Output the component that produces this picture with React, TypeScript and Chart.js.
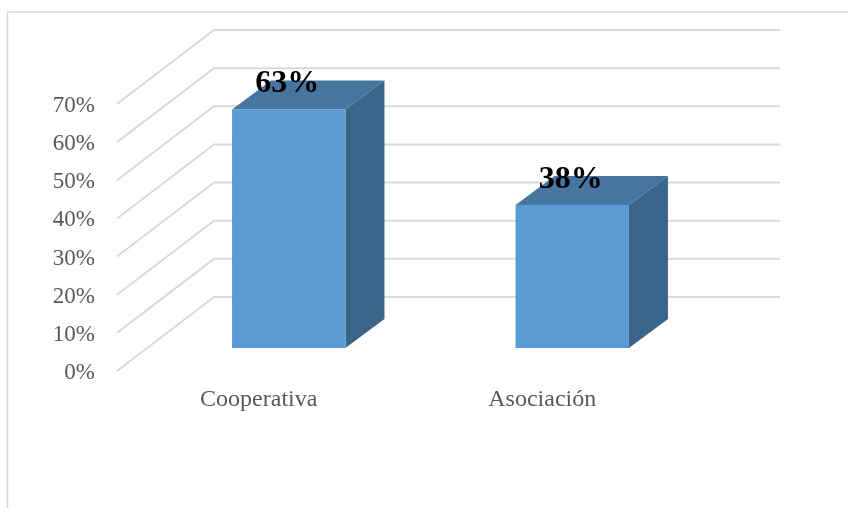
import React, { useEffect, useRef } from "react";
import { Chart, registerables } from "chart.js";

Chart.register(...registerables);

const categories = ["Cooperativa", "Asociación"];
const shares = [62.5, 37.5];
const shareLabels = ["63%", "38%"];
const axisTicks = [0, 10, 20, 30, 40, 50, 60, 70];

const SERIF = "'Liberation Serif', 'Times New Roman', serif";
const FRONT = "#5b9bd5";
const TOP = "#46759f";
const SIDE = "#3a6488";
const GRID = "#d9d9d9";
const TEXT = "#595959";

const WALL_DX = 96;
const WALL_DY = -74;
const WALL_END = 780;
const BAR_SHIFT_X = 29;
const BAR_SHIFT_Y = -23;
const BAR_DEPTH_X = 39;
const BAR_DEPTH_Y = -29;

const scene3d = {
  id: "scene3d",
  beforeDraw(chart: any) {
    const { ctx } = chart;
    ctx.save();
    ctx.strokeStyle = GRID;
    ctx.lineWidth = 1.5;
    ctx.beginPath();
    ctx.moveTo(7.5, 508);
    ctx.lineTo(7.5, 12);
    ctx.lineTo(848, 12);
    ctx.stroke();
    ctx.restore();
  },
  beforeDatasetsDraw(chart: any) {
    const { ctx, chartArea, scales } = chart;
    ctx.save();
    ctx.strokeStyle = GRID;
    ctx.lineWidth = 2;
    const x0 = chartArea.left - 1;
    for (const t of axisTicks) {
      const y = scales.y.getPixelForValue(t);
      ctx.beginPath();
      ctx.moveTo(x0, y);
      ctx.lineTo(x0 + WALL_DX + 1, y + WALL_DY);
      ctx.lineTo(WALL_END, y + WALL_DY);
      ctx.stroke();
    }
    ctx.restore();

    ctx.save();
    ctx.translate(BAR_SHIFT_X, BAR_SHIFT_Y);
    chart.getDatasetMeta(0).data.forEach((bar: any) => {
      const p = bar.getProps(["x", "y", "base", "width"], true);
      const l = p.x - p.width / 2;
      const r = p.x + p.width / 2;
      ctx.fillStyle = SIDE;
      ctx.beginPath();
      ctx.moveTo(r, p.y);
      ctx.lineTo(r + BAR_DEPTH_X, p.y + BAR_DEPTH_Y);
      ctx.lineTo(r + BAR_DEPTH_X, p.base + BAR_DEPTH_Y);
      ctx.lineTo(r, p.base);
      ctx.closePath();
      ctx.fill();
      ctx.fillStyle = TOP;
      ctx.beginPath();
      ctx.moveTo(l, p.y);
      ctx.lineTo(l + BAR_DEPTH_X, p.y + BAR_DEPTH_Y);
      ctx.lineTo(r + BAR_DEPTH_X, p.y + BAR_DEPTH_Y);
      ctx.lineTo(r, p.y);
      ctx.closePath();
      ctx.fill();
    });
    // the library's own bars are drawn next, inside this translation
  },
  afterDatasetsDraw(chart: any) {
    const { ctx } = chart;
    ctx.restore();
    ctx.save();
    ctx.fillStyle = "#000000";
    ctx.font = `bold 32px ${SERIF}`;
    ctx.textAlign = "center";
    ctx.textBaseline = "middle";
    chart.getDatasetMeta(0).data.forEach((bar: any, i: number) => {
      const p = bar.getProps(["x", "y"], true);
      ctx.fillText(shareLabels[i], p.x + BAR_SHIFT_X - 1.5, p.y + BAR_SHIFT_Y - 25.5);
    });
    ctx.restore();
  },
};

export default function App() {
  const ref = useRef<HTMLCanvasElement>(null);
  useEffect(() => {
    const chart = new Chart(ref.current as HTMLCanvasElement, {
      type: "bar",
      data: {
        labels: categories,
        datasets: [
          {
            data: shares,
            backgroundColor: FRONT,
            barPercentage: 0.4,
            categoryPercentage: 1,
            clip: false,
          } as any,
        ],
      },
      options: {
        animation: false,
        responsive: false,
        devicePixelRatio: 1,
        layout: { padding: { top: 104, right: 163, left: 0, bottom: 0 } },
        plugins: { legend: { display: false }, tooltip: { enabled: false } },
        scales: {
          y: {
            min: 0,
            max: 70,
            afterFit(s: any) {
              s.width = 118;
            },
            grid: { display: false },
            border: { display: false },
            ticks: {
              stepSize: 10,
              padding: 15,
              labelOffset: 2,
              color: TEXT,
              font: { family: SERIF, size: 23 },
              callback: (v: any) => `${v}%`,
            },
          },
          x: {
            afterFit(s: any) {
              s.height = 137;
            },
            grid: { display: false },
            border: { display: false },
            ticks: {
              padding: 6,
              labelOffset: -1,
              color: TEXT,
              font: { family: SERIF, size: 24 },
              maxRotation: 0,
            },
          },
        },
      },
      plugins: [scene3d],
    });
    return () => chart.destroy();
  }, []);
  return (
    <canvas
      ref={ref}
      width={848}
      height={508}
      style={{ position: "absolute", left: 0, top: 0, width: 848, height: 508 }}
    />
  );
}
